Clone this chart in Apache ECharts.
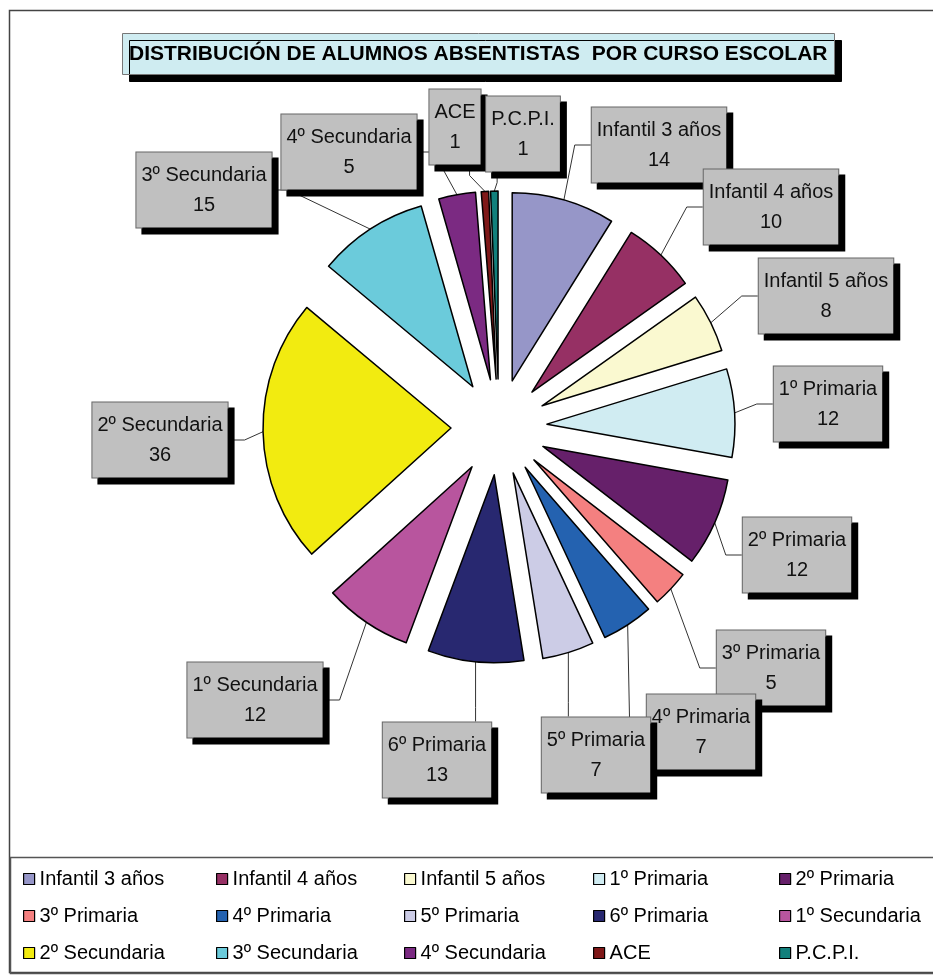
<!DOCTYPE html>
<html>
<head>
<meta charset="utf-8">
<script src="https://cdn.jsdelivr.net/npm/echarts@6/dist/echarts.min.js"></script>
<style>
  html, body { margin: 0; padding: 0; background: #fff; }
  #chart { width: 933px; height: 976px; }
</style>
</head>
<body>
<div id="chart"></div>
<script>
// Alumnos absentistas por curso escolar
const categories = ['Infantil 3 años', 'Infantil 4 años', 'Infantil 5 años', '1º Primaria', '2º Primaria',
  '3º Primaria', '4º Primaria', '5º Primaria', '6º Primaria', '1º Secundaria',
  '2º Secundaria', '3º Secundaria', '4º Secundaria', 'ACE', 'P.C.P.I.'];
const values = [14, 10, 8, 12, 12, 5, 7, 7, 13, 12, 36, 15, 5, 1, 1];
const colors = ['#9696C8', '#963064', '#FAF9D0', '#D0ECF2', '#66206A',
  '#F48080', '#2462B0', '#CCCCE6', '#282870', '#B8559E',
  '#F2EB10', '#6BCBDB', '#7B2A82', '#7F1818', '#12807C'];

// label boxes were dragged by hand in the original sheet: box centres
const labelBoxes = [[659, 145], [771, 207], [826, 296], [828, 404], [797, 555],
  [771, 668], [701, 732], [596, 755], [437, 760], [255, 700],
  [160, 440], [204, 190], [349, 152], [455, 127], [523, 134]];

const FONT = "'Liberation Sans', Arial, sans-serif";
const center = [499, 427];
const radius = 188;
const explode = 48;
const total = values.reduce((a, b) => a + b, 0);

// mid angle of slice i, clockwise from 12 o'clock
function midAngle(i) {
  let before = 0;
  for (let k = 0; k < i; k++) before += values[k];
  return (before + values[i] / 2) / total * Math.PI * 2;
}

// put the label box where the sheet had it and run the leader line
// from the outer edge of the exploded slice to the nearest side of the box
function labelLayout(params) {
  const i = params.dataIndex;
  const [bx, by] = labelBoxes[i];
  const w = params.labelRect.width;
  const h = params.labelRect.height;
  const a = midAngle(i);
  const ax = center[0] + Math.sin(a) * (radius + explode);
  const ay = center[1] - Math.cos(a) * (radius + explode);
  const left = bx - w / 2, right = bx + w / 2, top = by - h / 2, bottom = by + h / 2;
  let end, knee;
  if (ax < left - 10) {
    end = [left, by]; knee = [left - 16, by];
  } else if (ax > right + 10) {
    end = [right, by]; knee = [right + 16, by];
  } else {
    const ex = Math.min(Math.max(ax, left + 12), right - 12);
    if (ay > bottom) { end = [ex, bottom]; knee = [ex, bottom + 10]; }
    else { end = [ex, top]; knee = [ex, top - 14]; }
  }
  return {
    x: bx, y: by, align: 'center', verticalAlign: 'middle',
    labelLinePoints: [[ax, ay], knee, end]
  };
}

const legendX = [23, 216, 404, 593, 779];
const legendCols = legendX.map((x, c) => [categories[c], categories[c + 5], categories[c + 10]]);

const pieData = categories.map((name, i) => ({ name, value: values[i] }));

const chart = echarts.init(document.getElementById('chart'));
chart.setOption({
  animation: false,
  backgroundColor: '#fff',
  title: {
    text: 'DISTRIBUCIÓN DE ALUMNOS ABSENTISTAS  POR CURSO ESCOLAR',
    left: 122,
    top: 33,
    padding: [9, 7],
    backgroundColor: '#CFECF1',
    borderColor: '#777',
    borderWidth: 1,
    shadowColor: '#000',
    shadowOffsetX: 7,
    shadowOffsetY: 7,
    shadowBlur: 0,
    textStyle: { fontFamily: FONT, fontSize: 21, fontWeight: 'bold', color: '#000', lineHeight: 24 }
  },
  graphic: [
    {
      type: 'rect', z: -1, silent: true,
      shape: { x: 9.5, y: 10.5, width: 940, height: 962 },
      style: { fill: null, stroke: '#444', lineWidth: 1.5 }
    },
    {
      type: 'rect', z: -1, silent: true,
      shape: { x: 10.5, y: 857.5, width: 940, height: 116 },
      style: { fill: null, stroke: '#555', lineWidth: 1.5 }
    }
  ],
  legend: legendCols.map((data, c) => ({
    data,
    orient: 'vertical',
    left: legendX[c],
    top: 867,
    padding: 0,
    itemGap: 13,
    itemWidth: 11,
    itemHeight: 11,
    icon: 'rect',
    selectedMode: false,
    itemStyle: { borderColor: '#000', borderWidth: 1.2 },
    textStyle: { fontFamily: FONT, fontSize: 20, color: '#000', lineHeight: 24 }
  })),
  series: [
    {
      // the exploded pie itself
      type: 'pie',
      center,
      radius,
      startAngle: 90,
      clockwise: true,
      selectedMode: 'multiple',
      selectedOffset: explode,
      silent: true,
      data: pieData.map((d, i) => ({ ...d, selected: true, itemStyle: { color: colors[i] } })),
      itemStyle: { borderColor: '#000', borderWidth: 1.5 },
      select: { itemStyle: { borderColor: '#000', borderWidth: 1.5 } },
      emphasis: { disabled: true },
      label: { show: false },
      labelLine: { show: false }
    },
    {
      // same slices, not exploded and invisible: only carries the boxed labels
      type: 'pie',
      center,
      radius,
      startAngle: 90,
      clockwise: true,
      silent: true,
      avoidLabelOverlap: false,
      data: pieData,
      itemStyle: { color: 'rgba(0,0,0,0)', borderWidth: 0 },
      emphasis: { disabled: true },
      label: {
        show: true,
        position: 'outside',
        formatter: '{b}\n{c}',
        fontFamily: FONT,
        fontSize: 20,
        lineHeight: 30,
        color: '#111',
        align: 'center',
        backgroundColor: '#C0C0C0',
        borderColor: '#666',
        borderWidth: 1,
        padding: [7, 5, 8, 5],
        shadowColor: '#000',
        shadowOffsetX: 6,
        shadowOffsetY: 6,
        shadowBlur: 0
      },
      labelLine: {
        show: true,
        length: 10,
        length2: 10,
        lineStyle: { color: '#333', width: 1 }
      },
      labelLayout
    }
  ]
});
</script>
</body>
</html>
